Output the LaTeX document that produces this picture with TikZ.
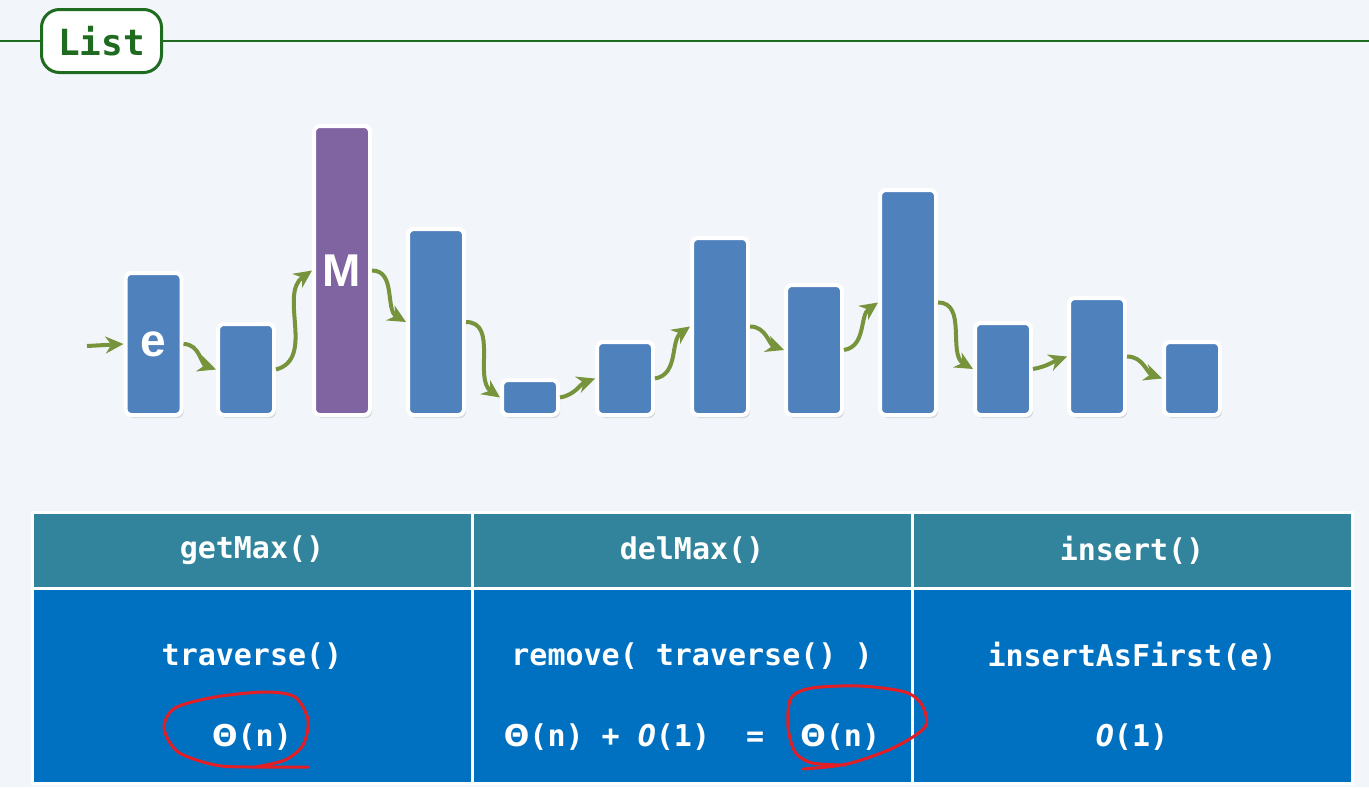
\documentclass[tikz,border=0pt]{standalone}
\usepackage{amsmath}
\usepackage{fontspec}
\setmonofont{DejaVu Sans Mono}
\setsansfont{Liberation Sans}
\newfontfamily\greekfont{DejaVu Sans}
\usetikzlibrary{positioning, arrows.meta, shadows}

\definecolor{bgcol}{HTML}{F2F6FB}
\definecolor{barblue}{HTML}{4F81BD}
\definecolor{barpurple}{HTML}{8064A2}
\definecolor{arrowgreen}{HTML}{77933C}
\definecolor{titlegreen}{HTML}{1F6B1F}
\definecolor{headteal}{HTML}{31849B}
\definecolor{cellblue}{HTML}{0070C0}
\definecolor{markred}{HTML}{E31E24}

\newcommand{\bigO}{{\itshape O}}
\newcommand{\bigTh}{{\greekfont\bfseries Θ}}

\tikzstyle{bar} = [rectangle, rounded corners=3pt, anchor=south, minimum width=28pt, inner sep=0pt, draw=white, line width=2pt, fill=barblue, text=white, font=\sffamily\bfseries\fontsize{23}{24}\selectfont, drop shadow={opacity=0.25, shadow xshift=1pt, shadow yshift=-1.5pt}]
\tikzstyle{maxbar} = [bar, fill=barpurple]
\tikzstyle{flow} = [->, >={Stealth[length=9pt,width=8.5pt]}, line width=2pt, draw=arrowgreen]
\tikzstyle{titlebox} = [rectangle, rounded corners=9pt, minimum width=60pt, minimum height=31.5pt, draw=titlegreen, fill=white, line width=1.5pt, text=titlegreen, font=\ttfamily\bfseries\fontsize{18}{20}\selectfont]
\tikzstyle{titleline} = [draw=titlegreen, line width=1.2pt]
\tikzstyle{head} = [rectangle, minimum width=220pt, minimum height=38pt, inner sep=0pt, outer sep=0pt, fill=headteal, draw=white, line width=1.5pt, text=white, font=\ttfamily\bfseries\fontsize{15}{18}\selectfont]
\tikzstyle{cell} = [head, minimum height=97.5pt, fill=cellblue]
\tikzstyle{celltext} = [inner sep=0pt, text=white, font=\ttfamily\bfseries\fontsize{15}{18}\selectfont]
\tikzstyle{redmark} = [draw=markred, line width=1.5pt, line cap=round, line join=round]

\begin{document}
\begin{tikzpicture}[x=0.5pt, y=-0.5pt]

\fill [bgcol] (0,0) rectangle (1369,787);
\useasboundingbox (0,0) rectangle (1369,787);

% title
\node (title) [titlebox] at (101.5,41) {List};
\coordinate (lstart) at (0,41);
\coordinate (lend) at (1369,41);
\draw [titleline] (lstart) -- (title.west);
\draw [titleline] (title.east) -- (lend);

% list elements
\node (b1) [bar, minimum height=71pt] at (153.5,417) {e};
\node (b2) [bar, minimum height=45.5pt] at (246,417) {};
\node (b3) [maxbar, minimum height=144.5pt] at (342,417) {M};
\node (b4) [bar, minimum height=93pt] at (436,417) {};
\node (b5) [bar, minimum height=17.5pt] at (530,417) {};
\node (b6) [bar, minimum height=36.5pt] at (625,417) {};
\node (b7) [bar, minimum height=88.5pt] at (720,417) {};
\node (b8) [bar, minimum height=65pt] at (814,417) {};
\node (b9) [bar, minimum height=112.5pt] at (908,417) {};
\node (b10) [bar, minimum height=46pt] at (1003,417) {};
\node (b11) [bar, minimum height=58.5pt] at (1097,417) {};
\node (b12) [bar, minimum height=36.5pt] at (1192,417) {};

\coordinate (start) at (87,346);
\draw [flow] (start) -- (b1.west);
\draw [flow] (b1.east) to[out=0,in=160] (b2.west);
\draw [flow] (b2.east) to[out=15,in=215] (b3.west);
\draw [flow] (b3.east) to[out=0,in=150] (b4.west);
\draw [flow] (b4.east) to[out=0,in=145] (b5.west);
\draw [flow] (b5.east) to[out=10,in=200] (b6.west);
\draw [flow] (b6.east) to[out=10,in=215] (b7.west);
\draw [flow] (b7.east) to[out=0,in=160] (b8.west);
\draw [flow] (b8.east) to[out=10,in=215] (b9.west);
\draw [flow] (b9.east) to[out=0,in=150] (b10.west);
\draw [flow] (b10.east) to[out=10,in=200] (b11.west);
\draw [flow] (b11.east) to[out=0,in=160] (b12.west);

% table
\node (h1) [head] at (252,550) {getMax()};
\node (h2) [head, right=0pt of h1] {delMax()};
\node (h3) [head, right=0pt of h2] {insert()};
\node (r1) [cell, below=0pt of h1] {};
\node (r2) [cell, below=0pt of h2] {};
\node (r3) [cell, below=0pt of h3] {};

\node (t1) [celltext] at ([yshift=14.5pt]r1.center) {traverse()};
\node (c1) [celltext] at ([yshift=-26pt]r1.center) {\bigTh(n)};
\node (t2) [celltext] at ([yshift=14.5pt]r2.center) {remove(\ traverse()\ )};
\node (c2) [celltext] at ([yshift=-26pt]r2.center) {\bigTh(n) + \bigO(1)\ \ =\ \ \bigTh(n)};
\node (t3) [celltext] at ([yshift=14.5pt]r3.center) {insertAsFirst(e)};
\node (c3) [celltext] at ([yshift=-26pt]r3.center) {\bigO(1)};

% red marks
\draw [redmark] plot[smooth] coordinates {(308,767) (250,767) (215,765) (178,752) (164,728) (175,708) (215,697) (265,692) (295,697) (308,720) (303,745) (285,760) (255,767)};
\draw [redmark] plot[smooth] coordinates {(803,769) (847,764) (893,748) (925,727) (922,705) (905,692) (860,686) (812,688) (791,698) (788,727) (795,752) (812,763) (845,765)};

\end{tikzpicture}
\end{document}
